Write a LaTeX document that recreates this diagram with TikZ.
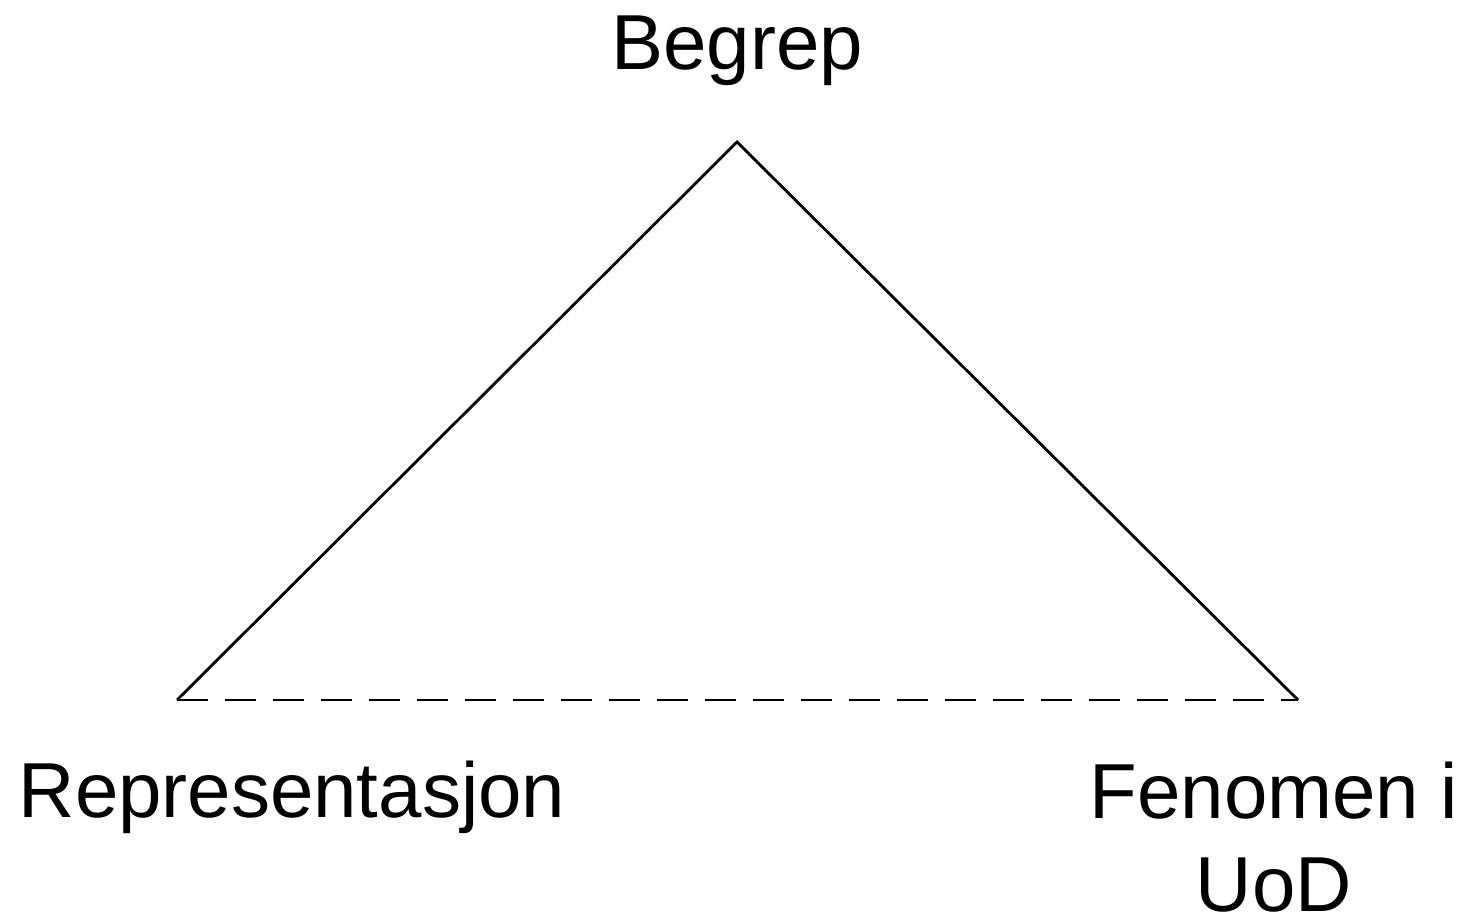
\documentclass[tikz,border=0pt]{standalone}
\usepackage{fontspec}
\setmainfont{Liberation Sans}
\usepackage{tikz}

\begin{document}
\begin{tikzpicture}[x=1cm,y=1cm,lbl/.style={font=\fontsize{22.2}{26.7}\selectfont,inner sep=0pt,align=center},side/.style={line width=0.8pt,line join=miter},dside/.style={side,dash pattern=on 3.1mm off 1.7mm}]
\useasboundingbox (0,0) rectangle (14.7,9.16);
   \coordinate (t0) at (7.37,7.74);
   \coordinate (t1) at (1.77,2.16);
   \coordinate (t2) at (12.98,2.16);
   \node[lbl,anchor=base](n0) at(7.37,8.46) {Begrep};
   \node[lbl,anchor=base](n1) at(2.92,0.98) {Representasjon};
   \node[lbl,anchor=base](n2) at(12.74,0.04) {Fenomen i\\UoD};
\draw[side] (t1) -- (t0) -- (t2);
\draw[dside] (t1) -- (t2);
\end{tikzpicture}
\end{document}
